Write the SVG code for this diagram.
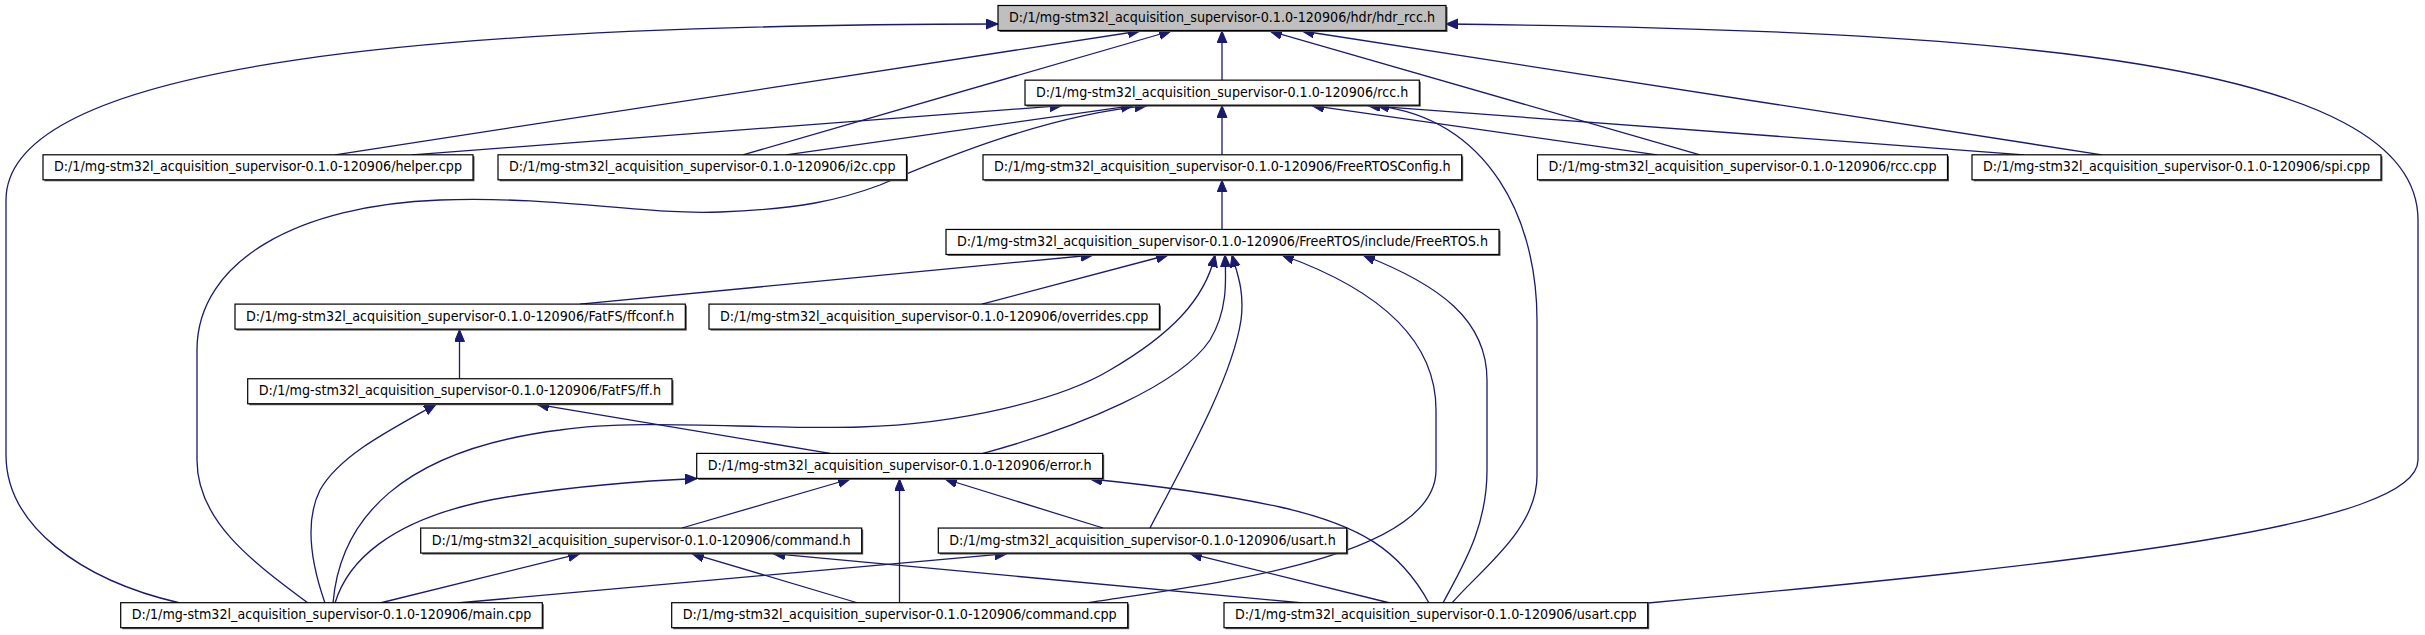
<svg xmlns="http://www.w3.org/2000/svg" width="2425" height="635" viewBox="0 0 2425 635">
<style>
.sh{fill:#555555;stroke:none}
.bx{fill:#ffffff;stroke:#000000;stroke-width:1.2}
.root{fill:#bfbfbf}
.t{font-family:"DejaVu Sans","Liberation Sans",sans-serif;font-size:14px;fill:#000000;text-anchor:middle}
.e{fill:none;stroke:#191970;stroke-width:1.3;marker-end:url(#ah)}
</style>
<defs>
<marker id="ah" markerWidth="14" markerHeight="12" refX="12" refY="5" orient="auto" markerUnits="userSpaceOnUse">
<path d="M0,0 L12,5 L0,10 z" fill="#191970" stroke="#191970" stroke-width="1"/>
</marker>
</defs>
<rect width="2425" height="635" fill="#ffffff"/>
<g id="connectors">
<path class="e" d="M1222,80.15 L1222,31"/>
<path class="e" d="M335,154.8 L1140,31"/>
<path class="e" d="M743,154.8 L1171,31"/>
<path class="e" d="M180,603 C 80,580 6,525 6,455 L6,200 C 6,60 450,25 998,24"/>
<path class="e" d="M1700,154.8 L1270,31"/>
<path class="e" d="M2102,154.8 L1302,31"/>
<path class="e" d="M1648,603 C 2100,562 2418,525 2418,460 L2418,220 C 2418,60 2000,30 1446,24"/>
<path class="e" d="M1222,154.8 L1222,105.6"/>
<path class="e" d="M412,154.8 L1062,105.6"/>
<path class="e" d="M786,154.8 L1133,105.6"/>
<path class="e" d="M308,603 C 250,560 197,520 197,460 L197,350 C 197,260 300,205 440,200 C 560,196 640,215 720,212 C 800,209 840,200 880,185 C 950,155 1050,115 1147,105.6"/>
<path class="e" d="M1657,154.8 L1312,105.6"/>
<path class="e" d="M2024,154.8 L1368,105.6"/>
<path class="e" d="M1452,603 C 1480,570 1537,530 1537,476 L1537,320 C 1537,220 1490,120 1377,105.6"/>
<path class="e" d="M1222,229.45 L1222,180.3"/>
<path class="e" d="M580,304.1 L1093,255"/>
<path class="e" d="M982,304.1 L1168,255"/>
<path class="e" d="M333,603 C 340,520 400,450 560,430 C 640,418 760,430 860,427 C 960,424 1060,400 1110,370 C 1170,335 1205,300 1215,255"/>
<path class="e" d="M983,453.4 C 1080,427 1180,385 1210,340 C 1228,310 1226,280 1225,255"/>
<path class="e" d="M1150,528 C 1180,470 1232,380 1241,320 C 1245,290 1236,270 1232,255"/>
<path class="e" d="M1087,603 C 1200,585 1436,560 1436,470 L1436,410 C 1436,340 1380,290 1282,255"/>
<path class="e" d="M1443,603 C 1460,570 1487,530 1487,470 L1487,380 C 1487,320 1440,285 1363,255"/>
<path class="e" d="M459.5,378.75 L459.5,329.6"/>
<path class="e" d="M325,603 C 310,560 305,520 320,490 C 340,455 390,430 436,404.3"/>
<path class="e" d="M830,453.4 L537,404.3"/>
<path class="e" d="M335,603 C 345,570 380,515 520,495 C 580,486 640,481 697,478.5"/>
<path class="e" d="M380,603 L580,553.6"/>
<path class="e" d="M457,603 L1007,553.6"/>
<path class="e" d="M858,603 L692,553.6"/>
<path class="e" d="M1303,603 L773,553.6"/>
<path class="e" d="M899.5,603 L899.5,479"/>
<path class="e" d="M682,528 L850,479"/>
<path class="e" d="M1103,528 L945,479"/>
<path class="e" d="M1429,603 C 1400,550 1360,525 1280,507 C 1220,494 1150,485 1090,479"/>
<path class="e" d="M1390,603 L1190,553.6"/>
</g>
<g id="n_hdr_rcc_h"><rect class="sh" x="999.5" y="7" width="448" height="25"/><rect class="bx root" x="998" y="5.5" width="448" height="25"/><text class="t" x="1222" y="22" textLength="426" lengthAdjust="spacingAndGlyphs">D:/1/mg-stm32l_acquisition_supervisor-0.1.0-120906/hdr/hdr_rcc.h</text></g>
<g id="n_rcc_h"><rect class="sh" x="1026.5" y="81.65" width="394.3" height="25"/><rect class="bx" x="1025" y="80.15" width="394.3" height="25"/><text class="t" x="1222.15" y="96.65" textLength="372.3" lengthAdjust="spacingAndGlyphs">D:/1/mg-stm32l_acquisition_supervisor-0.1.0-120906/rcc.h</text></g>
<g id="n_helper_cpp"><rect class="sh" x="44.5" y="156.3" width="430" height="25"/><rect class="bx" x="43" y="154.8" width="430" height="25"/><text class="t" x="258" y="171.3" textLength="408" lengthAdjust="spacingAndGlyphs">D:/1/mg-stm32l_acquisition_supervisor-0.1.0-120906/helper.cpp</text></g>
<g id="n_i2c_cpp"><rect class="sh" x="499.5" y="156.3" width="408.5" height="25"/><rect class="bx" x="498" y="154.8" width="408.5" height="25"/><text class="t" x="702.25" y="171.3" textLength="386.5" lengthAdjust="spacingAndGlyphs">D:/1/mg-stm32l_acquisition_supervisor-0.1.0-120906/i2c.cpp</text></g>
<g id="n_FreeRTOSConfig_h"><rect class="sh" x="984.5" y="156.3" width="478.7" height="25"/><rect class="bx" x="983" y="154.8" width="478.7" height="25"/><text class="t" x="1222.35" y="171.3" textLength="456.7" lengthAdjust="spacingAndGlyphs">D:/1/mg-stm32l_acquisition_supervisor-0.1.0-120906/FreeRTOSConfig.h</text></g>
<g id="n_rcc_cpp"><rect class="sh" x="1539" y="156.3" width="410" height="25"/><rect class="bx" x="1537.5" y="154.8" width="410" height="25"/><text class="t" x="1742.5" y="171.3" textLength="388" lengthAdjust="spacingAndGlyphs">D:/1/mg-stm32l_acquisition_supervisor-0.1.0-120906/rcc.cpp</text></g>
<g id="n_spi_cpp"><rect class="sh" x="1973.5" y="156.3" width="409" height="25"/><rect class="bx" x="1972" y="154.8" width="409" height="25"/><text class="t" x="2176.5" y="171.3" textLength="387" lengthAdjust="spacingAndGlyphs">D:/1/mg-stm32l_acquisition_supervisor-0.1.0-120906/spi.cpp</text></g>
<g id="n_FreeRTOS_h"><rect class="sh" x="947.5" y="230.95" width="553" height="25"/><rect class="bx" x="946" y="229.45" width="553" height="25"/><text class="t" x="1222.5" y="245.95" textLength="531" lengthAdjust="spacingAndGlyphs">D:/1/mg-stm32l_acquisition_supervisor-0.1.0-120906/FreeRTOS/include/FreeRTOS.h</text></g>
<g id="n_ffconf_h"><rect class="sh" x="236.5" y="305.6" width="450.3" height="25"/><rect class="bx" x="235" y="304.1" width="450.3" height="25"/><text class="t" x="460.15" y="320.6" textLength="428.3" lengthAdjust="spacingAndGlyphs">D:/1/mg-stm32l_acquisition_supervisor-0.1.0-120906/FatFS/ffconf.h</text></g>
<g id="n_overrides_cpp"><rect class="sh" x="710.5" y="305.6" width="450.4" height="25"/><rect class="bx" x="709" y="304.1" width="450.4" height="25"/><text class="t" x="934.2" y="320.6" textLength="428.4" lengthAdjust="spacingAndGlyphs">D:/1/mg-stm32l_acquisition_supervisor-0.1.0-120906/overrides.cpp</text></g>
<g id="n_ff_h"><rect class="sh" x="249.2" y="380.25" width="424.3" height="25"/><rect class="bx" x="247.7" y="378.75" width="424.3" height="25"/><text class="t" x="459.85" y="395.25" textLength="402.3" lengthAdjust="spacingAndGlyphs">D:/1/mg-stm32l_acquisition_supervisor-0.1.0-120906/FatFS/ff.h</text></g>
<g id="n_error_h"><rect class="sh" x="698.2" y="454.9" width="406" height="25"/><rect class="bx" x="696.7" y="453.4" width="406" height="25"/><text class="t" x="899.7" y="469.9" textLength="384" lengthAdjust="spacingAndGlyphs">D:/1/mg-stm32l_acquisition_supervisor-0.1.0-120906/error.h</text></g>
<g id="n_command_h"><rect class="sh" x="422.2" y="529.55" width="441" height="25"/><rect class="bx" x="420.7" y="528.05" width="441" height="25"/><text class="t" x="641.2" y="544.55" textLength="419" lengthAdjust="spacingAndGlyphs">D:/1/mg-stm32l_acquisition_supervisor-0.1.0-120906/command.h</text></g>
<g id="n_usart_h"><rect class="sh" x="939.8" y="529.55" width="408.4" height="25"/><rect class="bx" x="938.3" y="528.05" width="408.4" height="25"/><text class="t" x="1142.5" y="544.55" textLength="386.4" lengthAdjust="spacingAndGlyphs">D:/1/mg-stm32l_acquisition_supervisor-0.1.0-120906/usart.h</text></g>
<g id="n_main_cpp"><rect class="sh" x="122.2" y="604.2" width="421.6" height="25"/><rect class="bx" x="120.7" y="602.7" width="421.6" height="25"/><text class="t" x="331.5" y="619.2" textLength="399.6" lengthAdjust="spacingAndGlyphs">D:/1/mg-stm32l_acquisition_supervisor-0.1.0-120906/main.cpp</text></g>
<g id="n_command_cpp"><rect class="sh" x="673.2" y="604.2" width="456" height="25"/><rect class="bx" x="671.7" y="602.7" width="456" height="25"/><text class="t" x="899.7" y="619.2" textLength="434" lengthAdjust="spacingAndGlyphs">D:/1/mg-stm32l_acquisition_supervisor-0.1.0-120906/command.cpp</text></g>
<g id="n_usart_cpp"><rect class="sh" x="1225.5" y="604.2" width="423.7" height="25"/><rect class="bx" x="1224" y="602.7" width="423.7" height="25"/><text class="t" x="1435.85" y="619.2" textLength="401.7" lengthAdjust="spacingAndGlyphs">D:/1/mg-stm32l_acquisition_supervisor-0.1.0-120906/usart.cpp</text></g>
</svg>
